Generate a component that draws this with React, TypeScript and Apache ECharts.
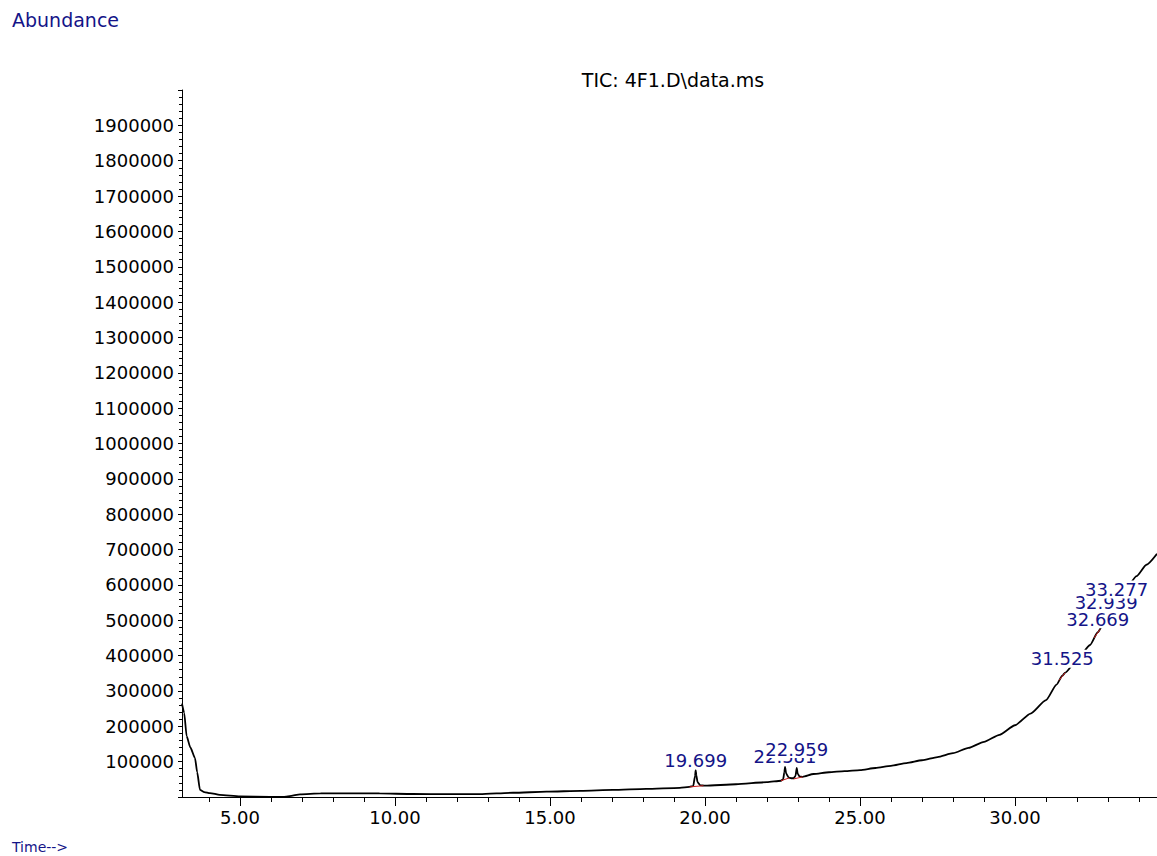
import React, { useEffect, useRef } from "react";
import * as echarts from "echarts";

// ---- data ----
const ticTimes: number[] = [
  3.13, 3.2, 3.28, 3.4, 3.55, 3.62, 3.71, 3.85, 4.03, 4.35, 5.0, 5.97, 6.39, 6.6, 6.94, 7.6, 8.44, 9.5, 10.58,
  11.7, 12.74, 13.81, 14.89, 16.0, 17.03, 18.1, 19.19, 19.5, 19.62, 19.68, 19.699, 19.72, 19.76, 19.85, 20.0,
  21.0, 22.0, 22.45, 22.52, 22.56, 22.581, 22.62, 22.7, 22.78, 22.86, 22.92, 22.959, 22.99, 23.05, 23.15, 23.5,
  24.0, 24.5, 25.0, 25.5, 26.0, 26.5, 27.0, 27.5, 28.0, 28.5, 29.0, 29.5, 30.0, 30.5, 31.0, 31.34, 31.525, 31.62,
  32.0, 32.42, 32.669, 32.8, 33.0, 33.277, 33.5, 33.92, 34.24, 34.58,
];
const ticAbundance: number[] = [
  264000, 238000, 172000, 140000, 110000, 70000, 20000, 14000, 11000, 6000, 1500, 300, 0, 2500, 7500, 10000,
  10500, 10000, 8500, 8000, 8000, 12000, 15000, 17500, 20000, 23000, 26000, 28500, 31000, 60000, 76000, 62000,
  42000, 33000, 32000, 36000, 42000, 46000, 50000, 70000, 85000, 66000, 55000, 53000, 53000, 60000, 82000,
  66000, 58000, 57000, 65000, 70000, 73000, 76000, 82000, 88000, 96000, 104000, 113000, 124000, 139000,
  156000, 176000, 203000, 236000, 274000, 318000, 343000, 352000, 388000, 430000, 466000, 482000, 510000,
  550000, 578000, 625000, 657000, 688000,
];

const peakLabels: string[] = ["19.699", "22.581", "22.959", "31.525", "32.669", "32.939", "33.277"];
const peakTimes: number[] = [19.699, 22.581, 22.959, 31.525, 32.669, 32.939, 33.277];
const peakHeights: number[] = [76000, 85000, 82000, 343000, 466000, 500000, 550000];

// integration baselines: [startTime, startValue] -> [endTime, endValue]
const baselineStartT: number[] = [19.5, 22.45, 22.86, 31.42, 32.55, 32.85, 33.2];
const baselineStartV: number[] = [28500, 46000, 51000, 330000, 450000, 492000, 540000];
const baselineEndT: number[] = [19.95, 22.72, 23.15, 31.62, 32.75, 33.02, 33.35];
const baselineEndV: number[] = [32000, 54000, 57000, 352000, 475000, 512000, 565000];

const xMajorTicks: number[] = [5, 10, 15, 20, 25, 30];
const xMinorTicks: number[] = [
  4, 5, 6, 7, 8, 9, 10, 11, 12, 13, 14, 15, 16, 17, 18, 19, 20, 21, 22, 23, 24, 25, 26, 27, 28, 29, 30, 31, 32,
  33, 34,
];

const titleText = "TIC: 4F1.D\\data.ms";
const yAxisName = "Abundance";
const xAxisName = "Time-->";

// label vertical nudges in pixels (layout only)
const peakLabelShift: number[] = [-1, -1, -10, -8, -4, -9, -4];

const FONT = "DejaVu Sans";
const BLUE = "#141488";

export default function App() {
  const ref = useRef<HTMLDivElement>(null);

  useEffect(() => {
    if (!ref.current) return;
    const chart = echarts.init(ref.current, null, { renderer: "svg" });

    const curve = ticTimes.map((t, i) => [t, ticAbundance[i]]);

    const baselineSeries = baselineStartT.map((t0, i) => ({
      type: "line",
      xAxisIndex: 0,
      yAxisIndex: 0,
      showSymbol: false,
      symbol: "none",
      silent: true,
      z: 3,
      lineStyle: { color: "#c81e1e", width: 1 },
      data: [
        [t0, baselineStartV[i]],
        [baselineEndT[i], baselineEndV[i]],
      ],
    }));

    const peakData = peakTimes.map((t, i) => ({
      name: peakLabels[i],
      value: [t, peakHeights[i]],
    }));

    chart.setOption({
      animation: false,
      backgroundColor: "#ffffff",
      grid: { left: 182, right: 0, top: 90, bottom: 59, containLabel: false },
      xAxis: [
        {
          type: "value",
          min: 3.13,
          max: 34.58,
          position: "bottom",
          axisLine: { show: true, onZero: false, lineStyle: { color: "#000", width: 1 } },
          axisTick: { show: true, customValues: xMajorTicks, length: 9, lineStyle: { color: "#000" } },
          axisLabel: {
            show: true,
            customValues: xMajorTicks,
            formatter: (v: number) => v.toFixed(2),
            fontFamily: FONT,
            fontSize: 18,
            color: "#000",
            margin: 11,
          },
          splitLine: { show: false },
        },
        {
          type: "value",
          min: 3.13,
          max: 34.58,
          position: "bottom",
          axisLine: { show: false, onZero: false },
          axisTick: { show: true, customValues: xMinorTicks, length: 5, lineStyle: { color: "#000" } },
          axisLabel: { show: false },
          splitLine: { show: false },
        },
      ],
      yAxis: {
        type: "value",
        min: 0,
        max: 2000000,
        interval: 100000,
        axisLine: { show: true, onZero: false, lineStyle: { color: "#000", width: 1 } },
        axisTick: { show: true, length: 4, lineStyle: { color: "#000" } },
        minorTick: { show: true, splitNumber: 5, length: 3, lineStyle: { color: "#000" } },
        axisLabel: {
          showMinLabel: false,
          showMaxLabel: false,
          formatter: (v: number) => String(v),
          fontFamily: FONT,
          fontSize: 18,
          color: "#000",
          margin: 8,
        },
        splitLine: { show: false },
        minorSplitLine: { show: false },
      },
      graphic: [
        {
          type: "text",
          left: 12,
          top: 10,
          style: { text: yAxisName, fill: BLUE, font: `19px '${FONT}'` },
        },
        {
          type: "text",
          x: 673,
          y: 80,
          style: {
            text: titleText,
            fill: "#000",
            font: `19px '${FONT}'`,
            textAlign: "center",
            textVerticalAlign: "middle",
          },
        },
        {
          type: "text",
          left: 12,
          top: 840,
          style: { text: xAxisName, fill: BLUE, font: `14px '${FONT}'` },
        },
      ],
      series: [
        {
          type: "line",
          name: "TIC",
          xAxisIndex: 0,
          yAxisIndex: 0,
          showSymbol: false,
          symbol: "none",
          smooth: 0.2,
          smoothMonotone: "x",
          z: 2,
          lineStyle: { color: "#000", width: 1.8 },
          data: curve,
        },
        ...baselineSeries,
        {
          type: "scatter",
          xAxisIndex: 0,
          yAxisIndex: 0,
          symbolSize: 0,
          itemStyle: { color: BLUE, opacity: 1 },
          z: 10,
          label: {
            show: true,
            position: "top",
            distance: 0,
            formatter: (p: any) => p.name,
            color: BLUE,
            fontFamily: FONT,
            fontSize: 18,
            backgroundColor: "#ffffff",
            padding: [0, 1, 0, 1],
          },
          emphasis: { disabled: true },
          labelLayout: (params: any) => ({
            hideOverlap: false,
            dy: peakLabelShift[params.dataIndex] || 0,
          }),
          data: peakData,
        },
      ],
    });

    return () => chart.dispose();
  }, []);

  return (
    <div
      ref={ref}
      style={{ position: "absolute", left: 0, top: 0, width: 1157, height: 856, background: "#fff" }}
    />
  );
}
